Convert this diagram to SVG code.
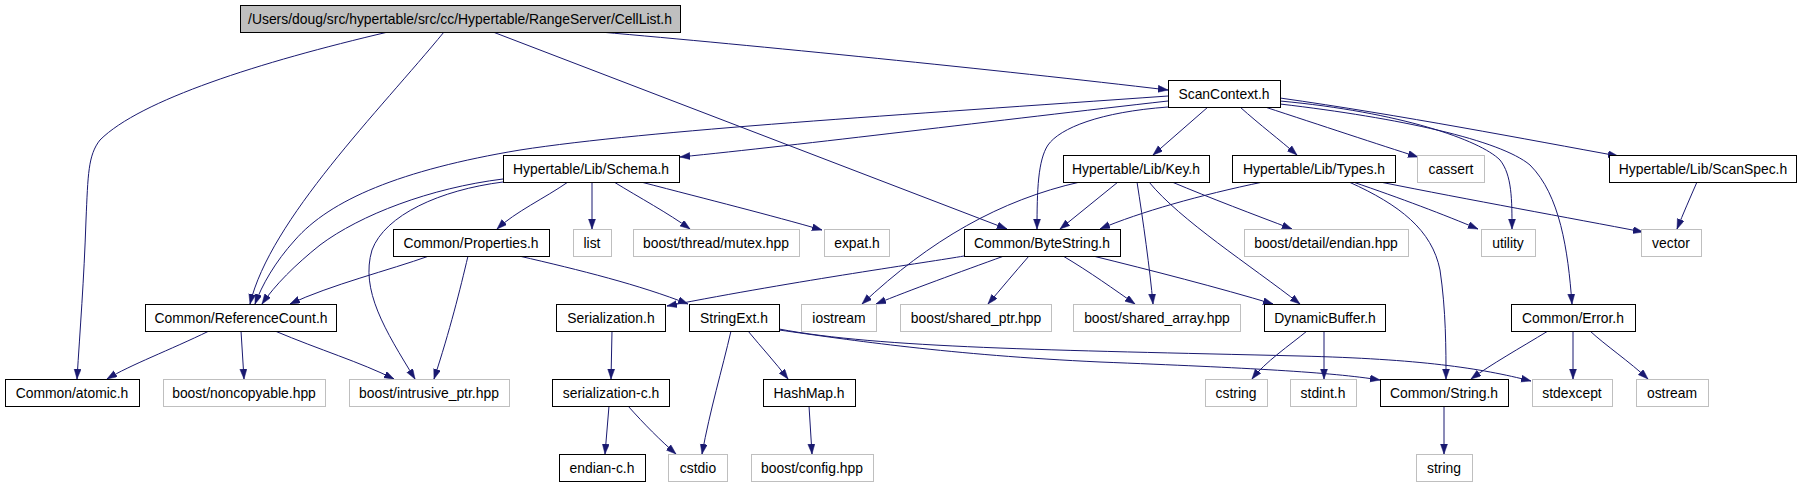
<svg xmlns="http://www.w3.org/2000/svg" width="1801" height="485" viewBox="0 0 1801 485">
<style>
  .n rect { fill: #ffffff; stroke: #000000; stroke-width: 1; }
  .x rect { fill: #ffffff; stroke: #bfbfbf; stroke-width: 1; }
  .root rect { fill: #bfbfbf; stroke: #000000; stroke-width: 1; }
  text { font-family: "Liberation Sans", Arial, sans-serif; font-size: 13.9px; fill: #000000; text-anchor: middle; }
  .e path { fill: none; stroke: #191970; stroke-width: 1; marker-end: url(#arr); }
</style>
<defs>
  <marker id="arr" markerUnits="userSpaceOnUse" markerWidth="11" markerHeight="8" refX="10" refY="3.5" orient="auto">
    <path d="M0,0 L10,3.5 L0,7 z" fill="#191970" stroke="#191970" stroke-width="0.5"/>
  </marker>
</defs>
<rect width="1801" height="485" fill="#ffffff"/>
<g id="edges" class="e">
  <path d="M388,32 C260,62 140,100 100,140 C88,155 88,175 86,220 C84,280 80,330 77,379"/>
  <path d="M444,32 C380,110 270,220 250,304"/>
  <path d="M493,32 L1007,229"/>
  <path d="M600,32 C750,45 1000,70 1168,90"/>
  <path d="M1168,96 C900,115 650,130 520,150 C400,170 330,200 295,240 C275,262 262,285 255,304"/>
  <path d="M1168,101 C1000,120 800,145 680,157"/>
  <path d="M1168,107 C1100,112 1060,128 1048,145 C1038,160 1037,190 1037,229"/>
  <path d="M1208,107 L1153,155"/>
  <path d="M1240,107 C1260,125 1280,140 1297,155"/>
  <path d="M1265,107 C1320,125 1380,145 1418,157"/>
  <path d="M1280,98 C1400,115 1530,140 1618,156"/>
  <path d="M1280,101 C1400,112 1480,140 1500,160 C1512,175 1512,200 1512,229"/>
  <path d="M1280,104 C1400,118 1500,140 1530,165 C1560,195 1568,250 1572,304"/>
  <path d="M503,179 C430,188 360,215 320,245 C295,265 275,285 262,304"/>
  <path d="M503,182 C440,190 385,215 372,250 C360,290 385,330 415,379"/>
  <path d="M568,182 C545,198 515,212 497,229"/>
  <path d="M592,182 L592,229"/>
  <path d="M614,182 C640,198 668,213 690,229"/>
  <path d="M641,182 C710,200 770,215 822,230"/>
  <path d="M429,256 C390,270 330,285 290,304"/>
  <path d="M468,256 C460,290 450,330 434,379"/>
  <path d="M519,256 C580,270 640,285 688,304"/>
  <path d="M209,331 C170,350 130,365 107,379"/>
  <path d="M241,331 L244,379"/>
  <path d="M275,331 C320,350 360,362 394,379"/>
  <path d="M612,331 L611,379"/>
  <path d="M609,406 L605,454"/>
  <path d="M628,406 C645,425 660,440 676,454"/>
  <path d="M731,331 C722,370 710,410 702,454"/>
  <path d="M748,331 C762,348 775,362 788,379"/>
  <path d="M809,406 L812,454"/>
  <path d="M779,329 C880,348 1050,350 1300,356 C1420,359 1480,368 1531,381"/>
  <path d="M779,330 C850,340 950,355 1100,362 C1250,368 1330,372 1380,380"/>
  <path d="M964,256 C930,262 800,280 667,306"/>
  <path d="M1004,256 C960,272 910,290 876,304"/>
  <path d="M1029,256 C1015,272 1000,290 988,304"/>
  <path d="M1063,256 C1090,272 1115,290 1135,304"/>
  <path d="M1093,256 C1150,270 1220,288 1273,304"/>
  <path d="M1080,182 C1000,200 930,240 862,304"/>
  <path d="M1118,182 L1060,229"/>
  <path d="M1137,182 C1143,220 1150,270 1153,304"/>
  <path d="M1149,182 C1180,220 1250,265 1300,304"/>
  <path d="M1172,182 C1210,198 1255,215 1292,229"/>
  <path d="M1263,182 C1200,195 1140,212 1100,229"/>
  <path d="M1353,182 C1400,198 1445,215 1478,229"/>
  <path d="M1380,182 C1470,200 1570,218 1643,232"/>
  <path d="M1349,182 C1400,205 1432,230 1440,270 C1446,310 1446,350 1446,379"/>
  <path d="M1697,182 C1690,198 1683,214 1677,229"/>
  <path d="M1307,331 C1290,345 1265,362 1252,379"/>
  <path d="M1324,331 L1324,379"/>
  <path d="M1548,331 C1520,348 1490,365 1471,379"/>
  <path d="M1573,331 L1573,379"/>
  <path d="M1590,331 C1605,345 1630,362 1648,379"/>
  <path d="M1444,406 L1444,454"/>
</g>
<g id="CellList" class="root"><rect x="240.5" y="5.5" width="440" height="27"/><text x="460" y="23.5">/Users/doug/src/hypertable/src/cc/Hypertable/RangeServer/CellList.h</text></g>
<g id="ScanContext" class="n"><rect x="1168.5" y="80.5" width="112" height="27"/><text x="1224" y="98.5">ScanContext.h</text></g>
<g id="Schema" class="n"><rect x="503.5" y="155.5" width="176" height="27"/><text x="591" y="173.5">Hypertable/Lib/Schema.h</text></g>
<g id="Key" class="n"><rect x="1063.5" y="155.5" width="146" height="27"/><text x="1136" y="173.5">Hypertable/Lib/Key.h</text></g>
<g id="Types" class="n"><rect x="1232.5" y="155.5" width="163" height="27"/><text x="1314" y="173.5">Hypertable/Lib/Types.h</text></g>
<g id="cassert" class="x"><rect x="1417.5" y="155.5" width="67" height="27"/><text x="1451" y="173.5">cassert</text></g>
<g id="ScanSpec" class="n"><rect x="1609.5" y="155.5" width="187" height="27"/><text x="1703" y="173.5">Hypertable/Lib/ScanSpec.h</text></g>
<g id="Properties" class="n"><rect x="393.5" y="229.5" width="156" height="27"/><text x="471" y="247.5">Common/Properties.h</text></g>
<g id="list" class="x"><rect x="573.5" y="229.5" width="38" height="27"/><text x="592" y="247.5">list</text></g>
<g id="mutex" class="x"><rect x="633.5" y="229.5" width="166" height="27"/><text x="716" y="247.5">boost/thread/mutex.hpp</text></g>
<g id="expat" class="x"><rect x="824.5" y="229.5" width="65" height="27"/><text x="857" y="247.5">expat.h</text></g>
<g id="ByteString" class="n"><rect x="964.5" y="229.5" width="156" height="27"/><text x="1042" y="247.5">Common/ByteString.h</text></g>
<g id="endian_hpp" class="x"><rect x="1244.5" y="229.5" width="164" height="27"/><text x="1326" y="247.5">boost/detail/endian.hpp</text></g>
<g id="utility" class="x"><rect x="1481.5" y="229.5" width="54" height="27"/><text x="1508" y="247.5">utility</text></g>
<g id="vector" class="x"><rect x="1641.5" y="229.5" width="60" height="27"/><text x="1671" y="247.5">vector</text></g>
<g id="ReferenceCount" class="n"><rect x="145.5" y="304.5" width="191" height="27"/><text x="241" y="322.5">Common/ReferenceCount.h</text></g>
<g id="Serialization" class="n"><rect x="556.5" y="304.5" width="109" height="27"/><text x="611" y="322.5">Serialization.h</text></g>
<g id="StringExt" class="n"><rect x="689.5" y="304.5" width="90" height="27"/><text x="734" y="322.5">StringExt.h</text></g>
<g id="iostream" class="x"><rect x="801.5" y="304.5" width="75" height="27"/><text x="839" y="322.5">iostream</text></g>
<g id="shared_ptr" class="x"><rect x="900.5" y="304.5" width="151" height="27"/><text x="976" y="322.5">boost/shared_ptr.hpp</text></g>
<g id="shared_array" class="x"><rect x="1073.5" y="304.5" width="167" height="27"/><text x="1157" y="322.5">boost/shared_array.hpp</text></g>
<g id="DynamicBuffer" class="n"><rect x="1264.5" y="304.5" width="121" height="27"/><text x="1325" y="322.5">DynamicBuffer.h</text></g>
<g id="Error" class="n"><rect x="1511.5" y="304.5" width="124" height="27"/><text x="1573" y="322.5">Common/Error.h</text></g>
<g id="atomic" class="n"><rect x="5.5" y="379.5" width="134" height="27"/><text x="72" y="397.5">Common/atomic.h</text></g>
<g id="noncopyable" class="x"><rect x="163.5" y="379.5" width="162" height="27"/><text x="244" y="397.5">boost/noncopyable.hpp</text></g>
<g id="intrusive_ptr" class="x"><rect x="349.5" y="379.5" width="160" height="27"/><text x="429" y="397.5">boost/intrusive_ptr.hpp</text></g>
<g id="serialization_c" class="n"><rect x="552.5" y="379.5" width="117" height="27"/><text x="611" y="397.5">serialization-c.h</text></g>
<g id="HashMap" class="n"><rect x="763.5" y="379.5" width="92" height="27"/><text x="809" y="397.5">HashMap.h</text></g>
<g id="cstring" class="x"><rect x="1205.5" y="379.5" width="62" height="27"/><text x="1236" y="397.5">cstring</text></g>
<g id="stdint" class="x"><rect x="1290.5" y="379.5" width="66" height="27"/><text x="1323" y="397.5">stdint.h</text></g>
<g id="String" class="n"><rect x="1380.5" y="379.5" width="128" height="27"/><text x="1444" y="397.5">Common/String.h</text></g>
<g id="stdexcept" class="x"><rect x="1532.5" y="379.5" width="80" height="27"/><text x="1572" y="397.5">stdexcept</text></g>
<g id="ostream" class="x"><rect x="1636.5" y="379.5" width="72" height="27"/><text x="1672" y="397.5">ostream</text></g>
<g id="endian_c" class="n"><rect x="559.5" y="454.5" width="86" height="27"/><text x="602" y="472.5">endian-c.h</text></g>
<g id="cstdio" class="x"><rect x="668.5" y="454.5" width="59" height="27"/><text x="698" y="472.5">cstdio</text></g>
<g id="config" class="x"><rect x="751.5" y="454.5" width="122" height="27"/><text x="812" y="472.5">boost/config.hpp</text></g>
<g id="string" class="x"><rect x="1416.5" y="454.5" width="56" height="27"/><text x="1444" y="472.5">string</text></g>
</svg>
